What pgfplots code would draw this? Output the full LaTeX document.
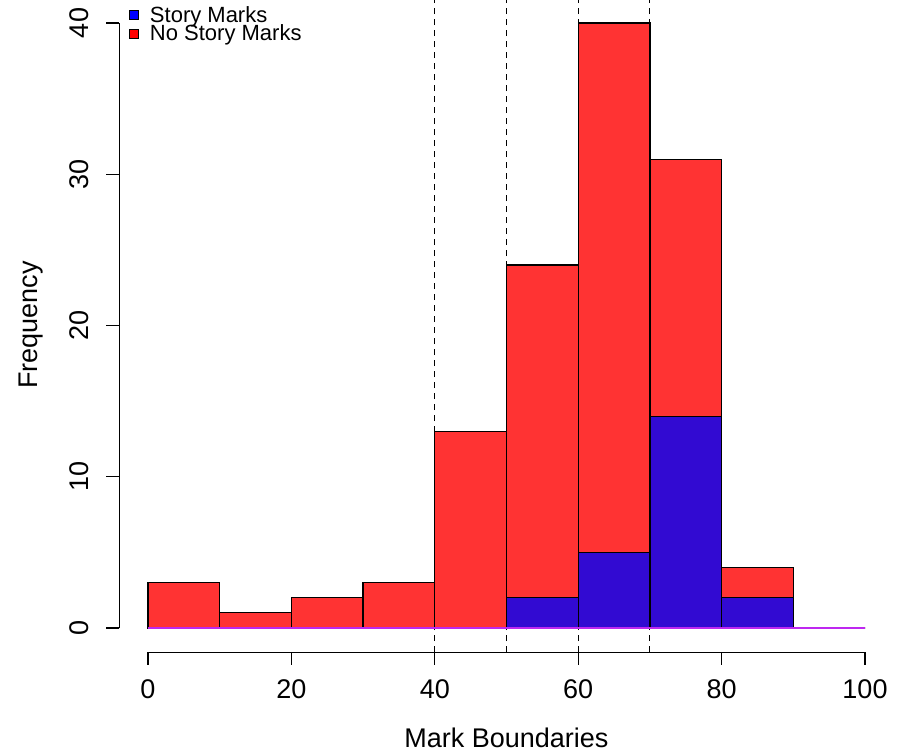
\documentclass[border=0pt]{standalone}
\usepackage{pgfplots}
\pgfplotsset{compat=1.18}
\usepackage{fontspec}
\setmainfont{Liberation Sans}
\definecolor{barred}{RGB}{255,51,51}
\definecolor{barblue}{RGB}{50,10,210}
\definecolor{basepurple}{RGB}{190,40,240}

\begin{document}
\begin{tikzpicture}
\begin{axis}[
  x=7.17bp, y=15.125bp,
  xmin=-4, xmax=104, ymin=-1.6, ymax=41.6,
  hide axis, clip=false,
  legend style={at={(axis cs:-2.65,41.1)}, anchor=north west, draw=none, fill=none,
    inner sep=0pt, font=\fontsize{22bp}{22bp}\selectfont,
    nodes={inner sep=0pt}, row sep=1bp, column sep=0pt},
  legend cell align=left,
  legend image code/.code={\draw[#1] (0bp,-4.5bp) rectangle (9bp,4.5bp); \path (20bp,0bp);},
]
\addlegendimage{fill=blue, draw=black, line width=0.8bp}
\addlegendentry{Story Marks}
\addlegendimage{fill=red, draw=black, line width=0.8bp}
\addlegendentry{No Story Marks}

% dashed boundaries
\addplot[black, dash pattern=on 6bp off 5bp, line width=1bp, forget plot] coordinates {(40,-1.6) (40,41.6)};
\addplot[black, dash pattern=on 6bp off 5bp, line width=1bp, forget plot] coordinates {(50,-1.6) (50,41.6)};
\addplot[black, dash pattern=on 6bp off 5bp, line width=1bp, forget plot] coordinates {(60,-1.6) (60,41.6)};
\addplot[black, dash pattern=on 6bp off 5bp, line width=1bp, forget plot] coordinates {(70,-1.6) (70,41.6)};

% No Story Marks (total)
\addplot[ybar interval, fill=barred, draw=black, line width=1.2bp, forget plot]
  coordinates {(0,3) (10,1) (20,2) (30,3) (40,13) (50,24) (60,40) (70,31) (80,4) (90,0) (100,0)};
% Story Marks
\addplot[ybar interval, fill=barblue, draw=black, line width=1.2bp, forget plot]
  coordinates {(50,2) (60,5) (70,14) (80,2) (90,0)};
% baseline
\addplot[basepurple, line width=1.5bp, forget plot] coordinates {(0,0) (100,0)};

% axes (R style)
\draw[line width=1.2bp] (axis cs:0,-1.6) -- (axis cs:100,-1.6);
\draw[line width=1.2bp] (axis cs:0,-1.6) -- (axis cs:0,-2.46);
\draw[line width=1.2bp] (axis cs:20,-1.6) -- (axis cs:20,-2.46);
\draw[line width=1.2bp] (axis cs:40,-1.6) -- (axis cs:40,-2.46);
\draw[line width=1.2bp] (axis cs:60,-1.6) -- (axis cs:60,-2.46);
\draw[line width=1.2bp] (axis cs:80,-1.6) -- (axis cs:80,-2.46);
\draw[line width=1.2bp] (axis cs:100,-1.6) -- (axis cs:100,-2.46);
\draw[line width=1.2bp] (axis cs:-4,0) -- (axis cs:-4,40);
\draw[line width=1.2bp] (axis cs:-4,0) -- (axis cs:-5.81,0);
\draw[line width=1.2bp] (axis cs:-4,10) -- (axis cs:-5.81,10);
\draw[line width=1.2bp] (axis cs:-4,20) -- (axis cs:-5.81,20);
\draw[line width=1.2bp] (axis cs:-4,30) -- (axis cs:-5.81,30);
\draw[line width=1.2bp] (axis cs:-4,40) -- (axis cs:-5.81,40);

\begin{scope}[every node/.style={font=\fontsize{27bp}{27bp}\selectfont, inner sep=0pt}]
\node[anchor=base] at (axis cs:0,-4.63) {0};
\node[anchor=base] at (axis cs:20,-4.63) {20};
\node[anchor=base] at (axis cs:40,-4.63) {40};
\node[anchor=base] at (axis cs:60,-4.63) {60};
\node[anchor=base] at (axis cs:80,-4.63) {80};
\node[anchor=base] at (axis cs:100,-4.63) {100};
\node[anchor=base, rotate=90] at (axis cs:-8.23,0) {0};
\node[anchor=base, rotate=90] at (axis cs:-8.23,10) {10};
\node[anchor=base, rotate=90] at (axis cs:-8.23,20) {20};
\node[anchor=base, rotate=90] at (axis cs:-8.23,30) {30};
\node[anchor=base, rotate=90] at (axis cs:-8.23,40) {40};
\node[anchor=base] at (axis cs:50,-7.92) {Mark Boundaries};
\node[anchor=base, rotate=90] at (axis cs:-15.34,20.03) {Frequency};
\end{scope}

\coordinate (bl) at (axis cs:-20.64,-8.13);
\coordinate (tr) at (axis cs:105.16,41.52);
\end{axis}
\pgfresetboundingbox
\useasboundingbox (bl) rectangle (tr);
\end{tikzpicture}
\end{document}
